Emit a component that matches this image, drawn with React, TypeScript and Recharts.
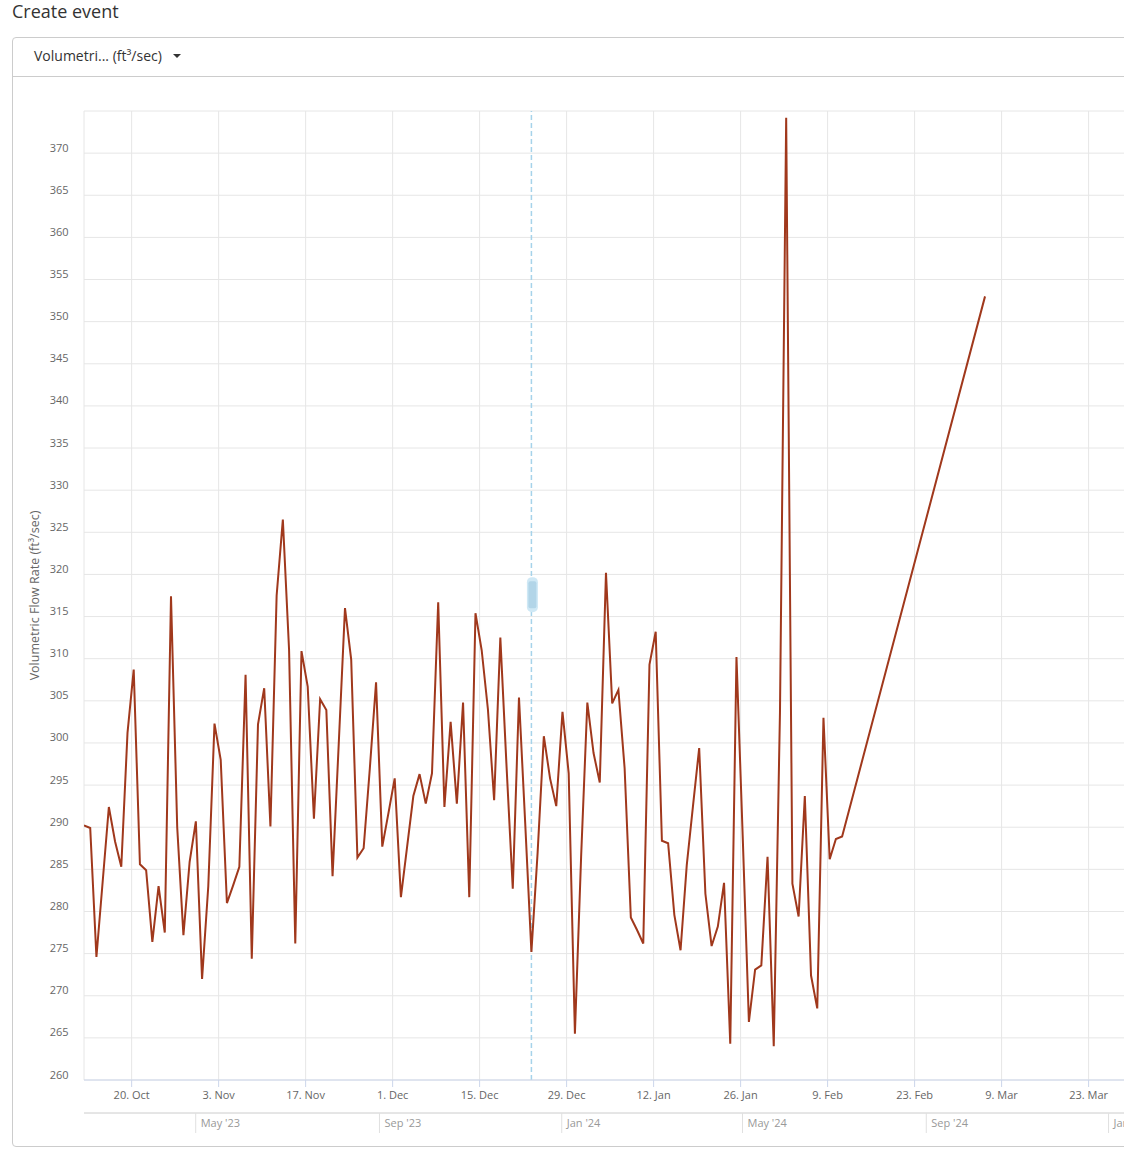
import React from 'react';
import { LineChart, Line, XAxis, YAxis, CartesianGrid, ReferenceLine, ReferenceDot } from 'recharts';

const DAY = 86400000;
const READ_HOUR = 8 * 3600000;

// daily readings, one per day starting at dailyStart
const dailyStart = '2024-10-12';
const dailyFlow = [
  290.2, 289.9, 274.6, 283.5, 292.4, 288.3, 285.3, 301.2, 308.7, 285.6,
  284.9, 276.4, 283.0, 277.5, 317.4, 290.0, 277.2, 285.9, 290.7, 272.0,
  283.0, 302.3, 298.0, 281.0, 283.1, 285.3, 308.1, 274.4, 302.2, 306.5,
  290.1, 317.5, 326.5, 311.1, 276.2, 310.9, 306.7, 291.0, 305.2, 303.9,
  284.2, 300.0, 316.0, 309.9, 286.4, 287.5, 297.0, 307.2, 287.7, 291.7,
  295.8, 281.7, 287.7, 293.7, 296.3, 292.8, 296.4, 316.7, 292.4, 302.5,
  292.8, 304.8, 281.7, 315.4, 311.0, 304.0, 293.2, 312.5, 297.2, 282.7,
  305.4, 290.5, 275.2, 287.0, 300.8, 295.8, 292.5, 303.7, 296.4, 265.5,
  286.5, 304.8, 298.8, 295.3, 320.2, 304.7, 306.3, 297.0, 279.3, 277.8,
  276.2, 309.3, 313.2, 288.4, 288.1, 279.6, 275.4, 285.5, 292.5, 299.4,
  282.1, 275.9, 278.2, 283.4, 264.3, 310.2, 289.0, 266.9, 273.1, 273.6,
  286.5, 264.0, 303.6, 374.2, 283.3, 279.4, 293.7, 272.4, 268.5, 303.0,
  286.2, 288.6, 288.9,
];
const lateDates = ['2025-03-06'];
const lateFlow = [353.0];

const dateTicks = [
  '2024-10-20', '2024-11-03', '2024-11-17', '2024-12-01', '2024-12-15', '2024-12-29',
  '2025-01-12', '2025-01-26', '2025-02-09', '2025-02-23', '2025-03-09', '2025-03-23',
];
const dateTickLabels = [
  '20. Oct', '3. Nov', '17. Nov', '1. Dec', '15. Dec', '29. Dec',
  '12. Jan', '26. Jan', '9. Feb', '23. Feb', '9. Mar', '23. Mar',
];
const navTicks = ['2023-05-01', '2023-09-01', '2024-01-01', '2024-05-01', '2024-09-01', '2025-01-01'];
const navTickLabels = ["May '23", "Sep '23", "Jan '24", "May '24", "Sep '24", "Jan '25"];
const flowTicks = [260, 265, 270, 275, 280, 285, 290, 295, 300, 305, 310, 315, 320, 325, 330, 335, 340, 345, 350, 355, 360, 365, 370, 375];
const cursorDate = '2024-12-23';

const ts = (d: string) => Date.parse(d);

const rows = [
  ...dailyFlow.map((flow, i) => ({ t: ts(dailyStart) + i * DAY + READ_HOUR, flow })),
  ...lateDates.map((d, i) => ({ t: ts(d) + READ_HOUR, flow: lateFlow[i] })),
];

const CHART_W = 1160;
const CHART_H = 1158;
const PLOT_LEFT = 84;
const PLOT_RIGHT = 10;
const plotW = CHART_W - PLOT_LEFT - PLOT_RIGHT;

const mainStart = rows[0].t;
const mainEnd = mainStart + (plotW / 6.214) * DAY;
const navStart = ts('2023-05-01') - ((195.7 - PLOT_LEFT) / 1.494) * DAY;
const navEnd = navStart + (plotW / 1.494) * DAY;

const cursorT = ts(cursorDate) + READ_HOUR;

const FlowTick = (props: any) => {
  const { y, payload } = props;
  if (payload.value === 375) return null;
  return (
    <text x={68.5} y={y - 1.5} textAnchor="end" fill="#666" fontSize={11} fontFamily="'Open Sans', sans-serif">
      {payload.value}
    </text>
  );
};

const DateTick = (props: any) => {
  const { x, y, payload } = props;
  const idx = dateTicks.findIndex((d) => ts(d) === payload.value);
  return (
    <text x={x} y={y + 11.5} textAnchor="middle" fill="#666" fontSize={11} fontFamily="'Open Sans', sans-serif">
      {dateTickLabels[idx]}
    </text>
  );
};

const NavTick = (props: any) => {
  const { x, y, payload } = props;
  const idx = navTicks.findIndex((d) => ts(d) === payload.value);
  return (
    <g>
      <line x1={x} x2={x} y1={y} y2={y + 20} stroke="#e0e0e0" />
      <text x={x + 5} y={y + 14} textAnchor="start" fill="#999" fontSize={11} fontFamily="'Open Sans', sans-serif">
        {navTickLabels[idx]}
      </text>
    </g>
  );
};

const YTitle = (props: any) => {
  const vb = props.viewBox || { y: 111, height: 969 };
  const cy = vb.y + vb.height / 2;
  return (
    <text
      x={34}
      y={cy}
      transform={`rotate(-90, 34, ${cy})`}
      textAnchor="middle"
      dominantBaseline="central"
      fill="#666"
      fontSize={12.5}
      fontFamily="'Open Sans', sans-serif"
    >
      Volumetric Flow Rate (ft³/sec)
    </text>
  );
};

const Handle = (props: any) => {
  const { cx, cy } = props;
  return (
    <g>
      <rect x={cx - 4.5} y={cy - 17.5} width={11} height={35} rx={5} fill="#cfe8f5" />
      <rect x={cx - 3} y={cy - 13.5} width={8} height={27} rx={2} fill="#b2d5e8" />
    </g>
  );
};

const App: React.FC = () => {
  return (
    <div
      style={{
        position: 'absolute',
        left: 0,
        top: 0,
        width: 1124,
        height: 1158,
        overflow: 'hidden',
        background: '#fff',
        fontFamily: "'Open Sans', sans-serif",
      }}
    >
      <div style={{ position: 'absolute', left: 12, top: -1, fontSize: 18, lineHeight: '24px', color: '#333' }}>
        Create event
      </div>
      <div
        style={{
          position: 'absolute',
          left: 12,
          top: 37,
          width: 1200,
          height: 1110,
          border: '1px solid #ccc',
          borderRadius: 4,
          boxSizing: 'border-box',
        }}
      />
      <div style={{ position: 'absolute', left: 12, top: 76, width: 1200, height: 1, background: '#ccc' }} />
      <div
        style={{
          position: 'absolute',
          left: 34,
          top: 46,
          fontSize: 14,
          lineHeight: '20px',
          color: '#333',
          display: 'flex',
          alignItems: 'center',
        }}
      >
        <span>Volumetri... (ft³/sec)</span>
        <span
          style={{
            display: 'inline-block',
            marginLeft: 11,
            width: 0,
            height: 0,
            borderLeft: '4px solid transparent',
            borderRight: '4px solid transparent',
            borderTop: '4px solid #333',
          }}
        />
      </div>
      <div style={{ position: 'absolute', left: 0, top: 0 }}>
        <LineChart
          width={CHART_W}
          height={CHART_H}
          data={rows}
          margin={{ top: 111, right: PLOT_RIGHT, bottom: 25, left: 0 }}
        >
          <CartesianGrid stroke="#e6e6e6" strokeWidth={1} />
          <XAxis
            dataKey="t"
            type="number"
            scale="linear"
            domain={[mainStart, mainEnd]}
            allowDataOverflow
            ticks={dateTicks.map((d) => ts(d))}
            interval={0}
            height={33}
            axisLine={{ stroke: '#ccd6eb' }}
            tickLine={{ stroke: '#ccd6eb' }}
            tickSize={7}
            tickMargin={0}
            tick={<DateTick />}
          />
          <XAxis
            xAxisId="nav"
            dataKey="t"
            type="number"
            scale="linear"
            domain={[navStart, navEnd]}
            allowDataOverflow
            ticks={navTicks.map((d) => ts(d))}
            interval={0}
            height={20}
            axisLine={{ stroke: '#cccccc' }}
            tickLine={false}
            tickSize={0}
            tickMargin={0}
            tick={<NavTick />}
          />
          <YAxis
            type="number"
            domain={[260, 375]}
            ticks={flowTicks}
            interval={0}
            width={PLOT_LEFT}
            axisLine={false}
            tickLine={false}
            tick={<FlowTick />}
            label={<YTitle />}
          />
          <ReferenceLine x={cursorT} stroke="#a6d3ea" strokeWidth={1.5} strokeDasharray="5 3" />
          <Line
            type="linear"
            dataKey="flow"
            stroke="#a0381c"
            strokeWidth={2}
            dot={false}
            activeDot={false}
            isAnimationActive={false}
          />
          <ReferenceDot x={cursorT} y={317.6} shape={<Handle />} />
        </LineChart>
      </div>
    </div>
  );
};

export default App;
